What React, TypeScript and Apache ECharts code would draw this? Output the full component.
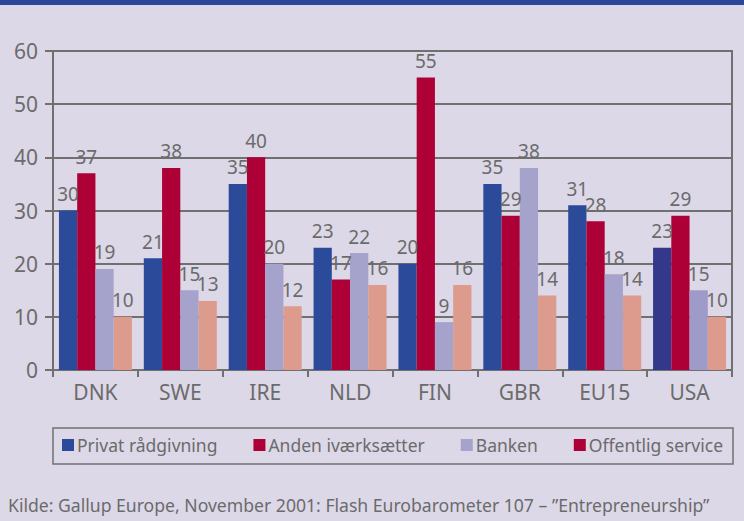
import React, { useEffect, useRef } from "react";
import * as echarts from "echarts";

const categories = ["DNK", "SWE", "IRE", "NLD", "FIN", "GBR", "EU15", "USA"];
const seriesNames = ["Privat rådgivning", "Anden iværksætter", "Banken", "Offentlig service"];
const privat = [30, 21, 35, 23, 20, 35, 31, 23];
const anden = [37, 38, 40, 17, 55, 29, 28, 29];
const banken = [19, 15, 20, 22, 9, 38, 18, 15];
const offentlig = [10, 13, 12, 16, 16, 14, 14, 10];
const yTicks = [0, 10, 20, 30, 40, 50, 60];
const footer = "Kilde: Gallup Europe, November 2001: Flash Eurobarometer 107 – ”Entrepreneurship”";

const colors = ["#2c4a9a", "#ad0036", "#a5a2cb", "#dc9b8c"];
const usaColors = ["#34388b", "#ad0036", "#9f9bc8", "#dc9b8c"];
const gray = "#6b6b6b";
const lineGray = "#707070";
const font = "'Noto Sans', 'Open Sans', sans-serif";

export default function App() {
  const ref = useRef<HTMLDivElement>(null);
  useEffect(() => {
    if (!ref.current) return;
    const chart = echarts.init(ref.current, null, { renderer: "svg" });
    const allData = [privat, anden, banken, offentlig];
    const series = allData.map((d, si) => ({
      name: seriesNames[si],
      type: "bar",
      barGap: "0%",
      barCategoryGap: "14%",
      itemStyle: { color: colors[si] },
      data: d.map((v, i) =>
        categories[i] === "USA" ? { value: v, itemStyle: { color: usaColors[si] } } : v
      ),
      label: {
        show: true,
        position: "top",
        distance: 7,
        color: gray,
        fontSize: 19,
        fontFamily: font,
      },
    }));
    chart.setOption({
      animation: false,
      backgroundColor: "#dcd8e8",
      grid: {
        left: 53,
        right: 12,
        top: 51,
        bottom: 151,
        show: true,
        borderColor: lineGray,
        borderWidth: 2,
        backgroundColor: "transparent",
      },
      xAxis: {
        type: "category",
        data: categories,
        axisLine: { lineStyle: { color: lineGray, width: 2 } },
        axisTick: { show: true, length: 7, lineStyle: { color: lineGray, width: 2 } },
        axisLabel: { color: gray, fontSize: 21, fontFamily: font, margin: 11 },
      },
      yAxis: {
        type: "value",
        min: yTicks[0],
        max: yTicks[yTicks.length - 1],
        interval: 10,
        axisLine: { show: true, lineStyle: { color: lineGray, width: 2 } },
        axisTick: { show: true, length: 8, lineStyle: { color: lineGray, width: 2 } },
        axisLabel: { color: gray, fontSize: 21, fontFamily: font, margin: 15 },
        splitLine: { lineStyle: { color: lineGray, width: 2 } },
      },
      legend: {
        left: 62,
        top: 436,
        itemWidth: 12,
        itemHeight: 12,
        itemGap: 36,
        padding: 0,
        icon: "rect",
        textStyle: { color: gray, fontSize: 17.5, fontFamily: font, padding: [0, 0, 0, -2] },
        data: seriesNames.map((n, i) =>
          i === 3 ? { name: n, itemStyle: { color: "#ad0036" } } : { name: n }
        ),
      },
      graphic: [
        {
          type: "rect",
          shape: { x: 0, y: 0, width: 744, height: 5 },
          style: { fill: "#2c4799" },
        },
        {
          type: "rect",
          shape: { x: 53, y: 428, width: 680, height: 36 },
          style: { fill: "none", stroke: lineGray, lineWidth: 1.5 },
        },
        {
          type: "text",
          left: 8,
          top: 496,
          style: { text: footer, fill: gray, fontSize: 17.6, fontFamily: font },
        },
      ],
      series,
    });
    return () => chart.dispose();
  }, []);
  return <div ref={ref} style={{ width: 744, height: 521, position: "absolute", left: 0, top: 0 }} />;
}
